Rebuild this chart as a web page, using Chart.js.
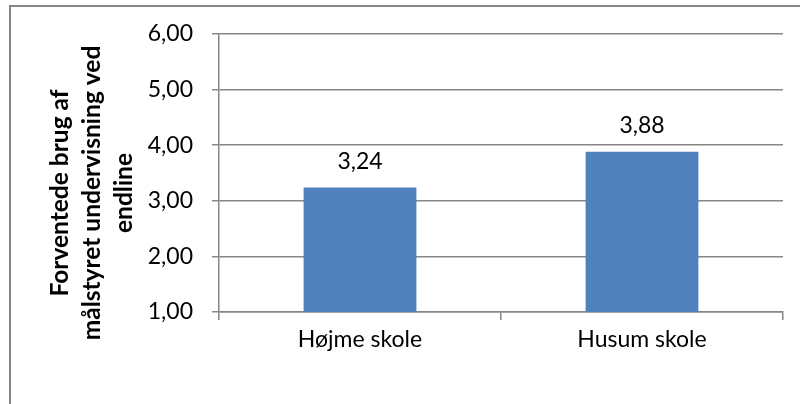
<!DOCTYPE html>
<html>
<head>
<meta charset="utf-8">
<script src="https://cdn.jsdelivr.net/npm/chart.js@4"></script>
<style>
  body { margin: 0; background: #fff; }
  #frame {
    position: absolute; left: 9px; top: 5px;
    width: 900px; height: 500px;
    border: 2px solid #868686;
  }
  #wrap { position: absolute; left: 0; top: 0; width: 800px; height: 404px; }
</style>
</head>
<body>
<div id="frame"></div>
<div id="wrap"><canvas id="skoler"></canvas></div>
<script>
const categories = ['Højme skole', 'Husum skole'];
const values = [3.24, 3.88];
const yMin = 1;
const yMax = 6;
const yStep = 1;
const yTitle = ['Forventede brug af', 'målstyret undervisning ved', 'endline'];

const fontFamily = 'Lato, "Open Sans", sans-serif';
const komma = (v) => v.toFixed(2).replace('.', ',');

// data labels above the bars
const barLabels = {
    id: 'barLabels',
    afterDatasetsDraw(chart) {
        const ctx = chart.ctx;
        const meta = chart.getDatasetMeta(0);
        ctx.save();
        ctx.font = '23px ' + fontFamily;
        ctx.fillStyle = '#000';
        ctx.textAlign = 'center';
        ctx.textBaseline = 'middle';
        meta.data.forEach((bar, i) => {
            ctx.fillText(komma(values[i]), bar.x, bar.y - 26);
        });
        ctx.restore();
    }
};

// rotated y axis title, three lines
const axisTitle = {
    id: 'axisTitle',
    afterDraw(chart) {
        const ctx = chart.ctx;
        ctx.save();
        ctx.translate(0, 193);
        ctx.rotate(-Math.PI / 2);
        ctx.font = 'bold 24.5px ' + fontFamily;
        ctx.fillStyle = '#000';
        ctx.textAlign = 'center';
        ctx.textBaseline = 'alphabetic';
        yTitle.forEach((line, i) => {
            ctx.fillText(line, 0, 68 + i * 32);
        });
        ctx.restore();
    }
};

const config = {
    type: 'bar',
    data: {
        labels: categories,
        datasets: [{
            data: values,
            backgroundColor: '#4F81BD',
            barPercentage: 0.4,
            categoryPercentage: 1
        }]
    },
    options: {
        responsive: true,
        maintainAspectRatio: false,
        animation: false,
        layout: { padding: { left: 0, top: 34, right: 17, bottom: 0 } },
        plugins: {
            legend: { display: false },
            tooltip: { enabled: false }
        },
        scales: {
            x: {
                grid: {
                    offset: true,
                    drawOnChartArea: false,
                    drawTicks: true,
                    tickLength: 8,
                    color: '#868686',
                    lineWidth: 1.5
                },
                border: { color: '#868686', width: 1.5 },
                ticks: {
                    color: '#000',
                    padding: 6,
                    font: { family: fontFamily, size: 23 }
                },
                afterFit(scale) { scale.height = 92; }
            },
            y: {
                min: yMin,
                max: yMax,
                grid: {
                    color: '#868686',
                    lineWidth: 1.5,
                    tickLength: 7
                },
                border: { color: '#868686', width: 1.5 },
                ticks: {
                    stepSize: yStep,
                    color: '#000',
                    padding: 19,
                    font: { family: fontFamily, size: 23 },
                    callback: (v) => komma(v)
                },
                afterFit(scale) { scale.width = 219; }
            }
        }
    },
    plugins: [barLabels, axisTitle]
};

new Chart(document.getElementById('skoler'), config);
</script>
</body>
</html>
